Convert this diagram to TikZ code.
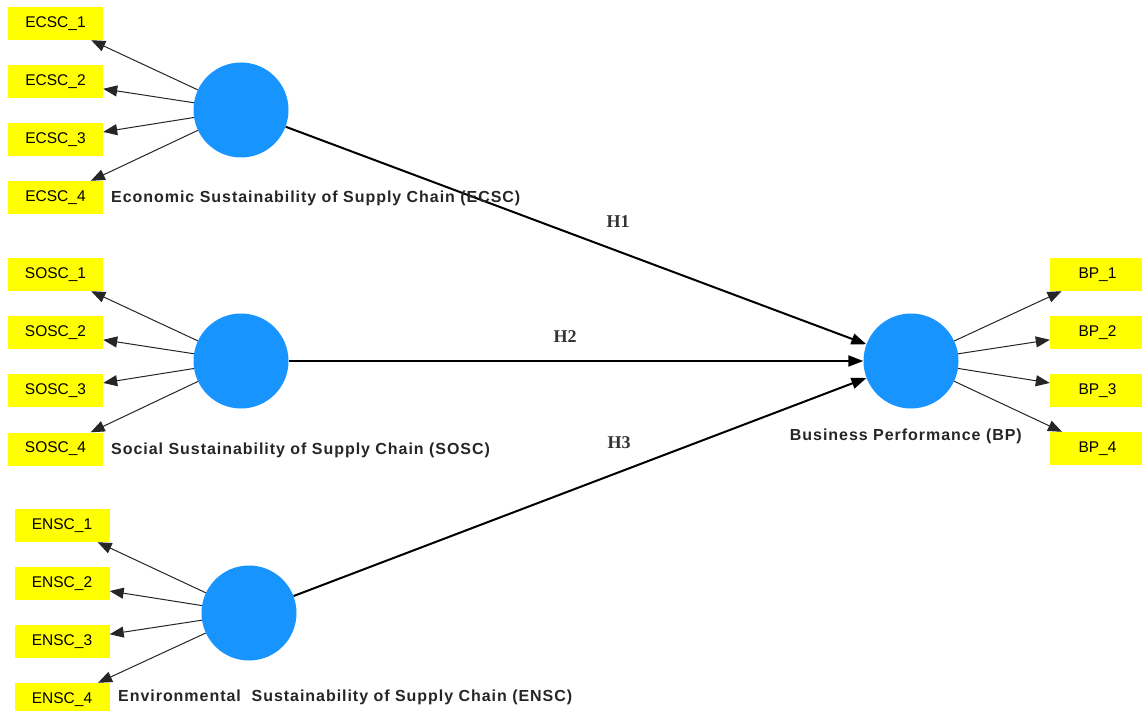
\documentclass[tikz,border=0pt]{standalone}
\usepackage{fontspec}
\setmainfont{Liberation Sans}
\newfontfamily\hfont{Liberation Serif}
\newfontfamily\lvfont[LetterSpace=6]{Liberation Sans}
\usetikzlibrary{arrows.meta}
\definecolor{lvblue}{RGB}{24,148,255}
\definecolor{indyellow}{RGB}{255,255,0}
\begin{document}
\begin{tikzpicture}[x=1pt,y=-1pt,
  ind/.style={fill=indyellow, minimum width=95pt, minimum height=33pt, inner sep=0pt, font=\fontsize{15.5}{15.5}\selectfont},
  lv/.style={circle, fill=lvblue, minimum size=95pt, inner sep=0pt},
  lvlabel/.style={font=\lvfont\bfseries\fontsize{16}{16}\selectfont, text=black!85, inner sep=0pt},
  load/.style={draw=black!85, line width=1pt, -{Triangle[length=14pt,width=11pt]}},
  strpath/.style={draw=black, line width=2pt, -{Triangle[length=15pt,width=11pt]}},
  hlab/.style={font=\hfont\bfseries\fontsize{18}{18}\selectfont, text=black!80, inner sep=0pt}
]
\useasboundingbox (0,0) rectangle (1142,711);
\fill[white] (0,0) rectangle (1142,711);

% latent variables
\node[lv] (ecsc) at (241,110) {};
\node[lv] (sosc) at (241,361) {};
\node[lv] (ensc) at (249,613) {};
\node[lv] (bp)   at (911,361) {};

% indicators ECSC
\node[ind] (e1) at (55.5,23.5) {ECSC\_1};
\node[ind] (e2) at (55.5,81.5) {ECSC\_2};
\node[ind] (e3) at (55.5,139.5) {ECSC\_3};
\node[ind] (e4) at (55.5,197.5) {ECSC\_4};
% indicators SOSC
\node[ind] (s1) at (55.5,274.5) {SOSC\_1};
\node[ind] (s2) at (55.5,332.5) {SOSC\_2};
\node[ind] (s3) at (55.5,390.5) {SOSC\_3};
\node[ind] (s4) at (55.5,449) {SOSC\_4};
% indicators ENSC
\node[ind] (n1) at (62,525.5) {ENSC\_1};
\node[ind] (n2) at (62,583.5) {ENSC\_2};
\node[ind] (n3) at (62,641.5) {ENSC\_3};
\node[ind] (n4) at (62,699.5) {ENSC\_4};
% indicators BP
\node[ind] (b1) at (1097.5,274.5) {BP\_1};
\node[ind] (b2) at (1097.5,332.5) {BP\_2};
\node[ind] (b3) at (1097.5,390.5) {BP\_3};
\node[ind] (b4) at (1097.5,448.5) {BP\_4};

% loadings
\foreach \i in {e1,e2,e3,e4} \draw[load] (ecsc) -- (\i);
\foreach \i in {s1,s2,s3,s4} \draw[load] (sosc) -- (\i);
\foreach \i in {n1,n2,n3,n4} \draw[load] (ensc) -- (\i);
\foreach \i in {b1,b2,b3,b4} \draw[load] (bp) -- (\i);

% structural paths
\draw[strpath] (ecsc) -- (bp);
\draw[strpath] (sosc) -- (bp);
\draw[strpath] (ensc) -- (bp);

% path labels
\node[hlab] (h1) at (618,222) {H1};
\node[hlab] (h2) at (565,337) {H2};
\node[hlab] (h3) at (619,443) {H3};

% latent labels
\node[lvlabel, anchor=west] (lecsc) at (111,198) {Economic Sustainability of Supply Chain (ECSC)};
\node[lvlabel, anchor=west] (lsosc) at (111,450) {Social Sustainability of Supply Chain (SOSC)};
\node[lvlabel, anchor=west] (lensc) at (118,697) {Environmental\ \ Sustainability of Supply Chain (ENSC)};
\node[lvlabel, anchor=east] (lbp) at (1022,436) {Business Performance (BP)};
\end{tikzpicture}
\end{document}
